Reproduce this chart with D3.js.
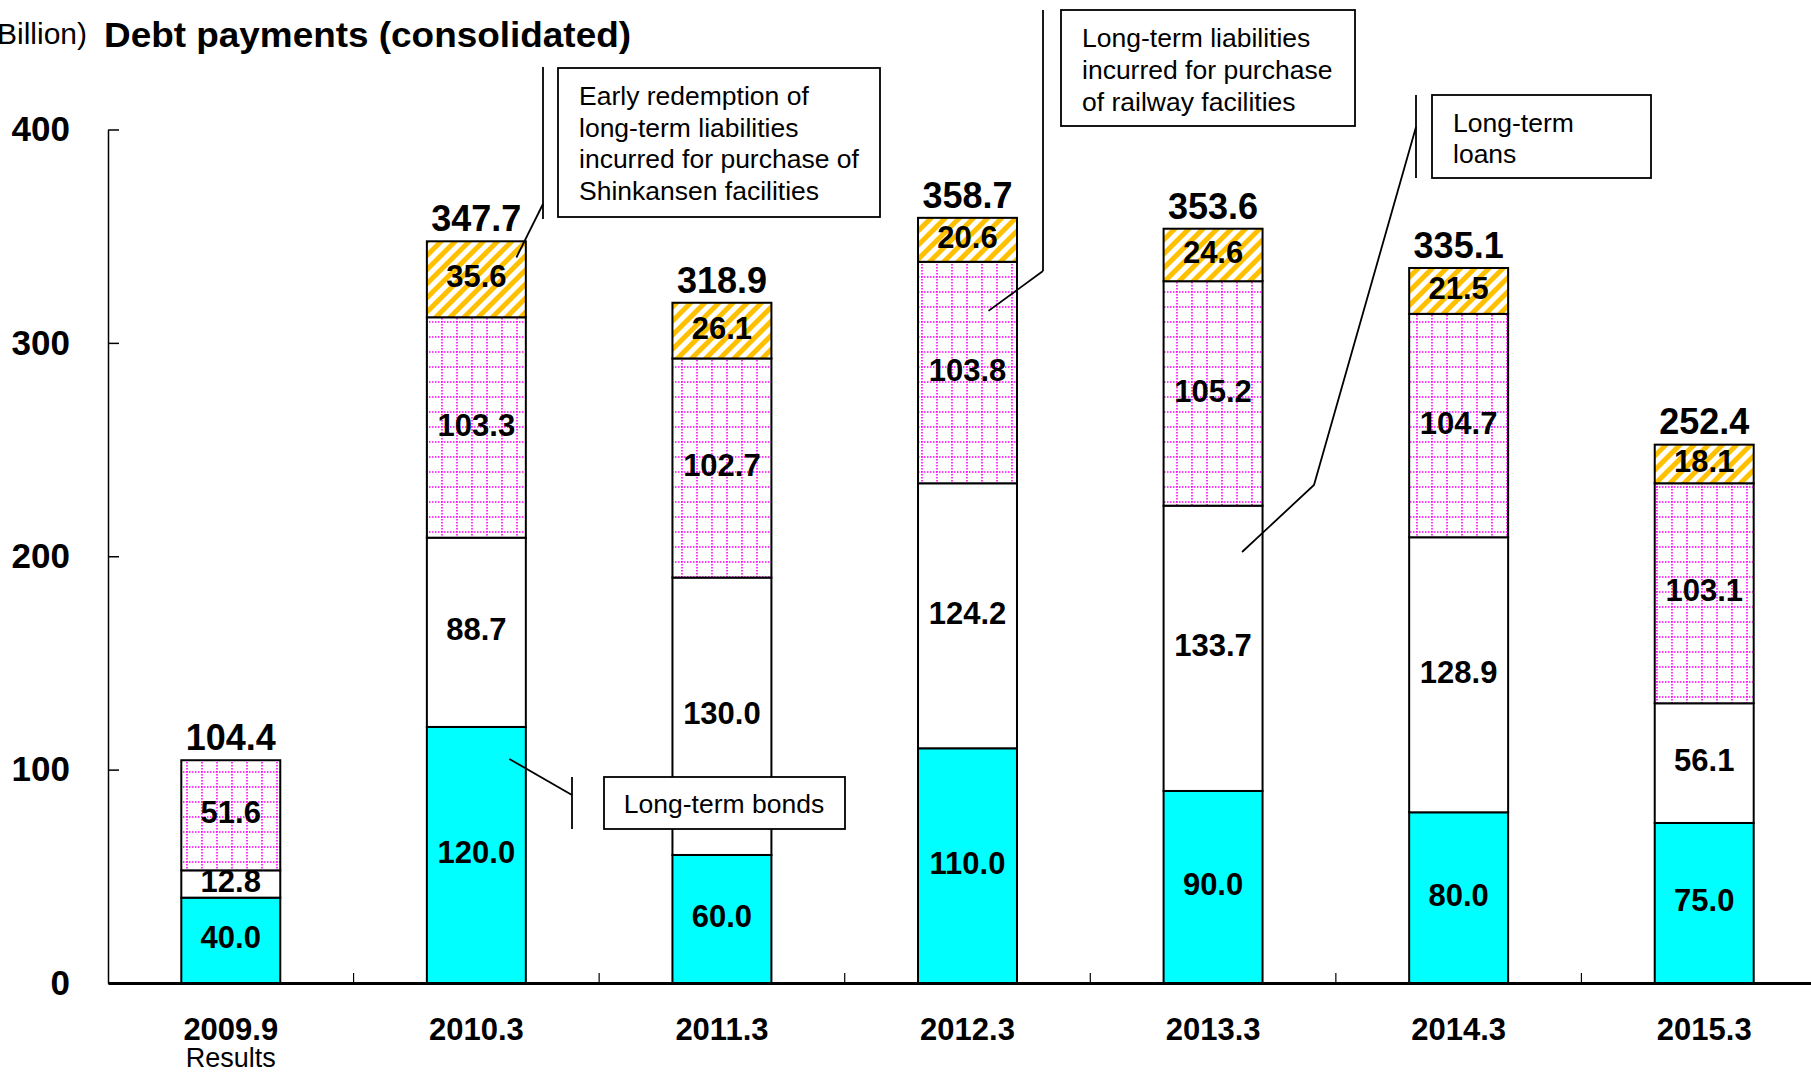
<!DOCTYPE html>
<html>
<head>
<meta charset="utf-8">
<script src="https://cdnjs.cloudflare.com/ajax/libs/d3/7.8.5/d3.min.js"></script>
<style>
  body { margin: 0; background: #fff; }
  text { font-family: "Liberation Sans", Arial, sans-serif; }
</style>
</head>
<body>
<script>
// values in ¥ billion
var categories = ["2009.9", "2010.3", "2011.3", "2012.3", "2013.3", "2014.3", "2015.3"];
var bonds      = [40.0, 120.0, 60.0, 110.0, 90.0, 80.0, 75.0];
var loans      = [12.8, 88.7, 130.0, 124.2, 133.7, 128.9, 56.1];
var railway    = [51.6, 103.3, 102.7, 103.8, 105.2, 104.7, 103.1];
var shinkansen = [0, 35.6, 26.1, 20.6, 24.6, 21.5, 18.1];
var totals     = [104.4, 347.7, 318.9, 358.7, 353.6, 335.1, 252.4];
var yTicks     = [0, 100, 200, 300, 400];

var keys = ["bonds", "loans", "railway", "shinkansen"];
var fills = {bonds: "#00ffff", loans: "#ffffff", railway: "url(#grid)", shinkansen: "url(#hatch)"};

var rows = categories.map(function(c, i) {
  return {cat: c, bonds: bonds[i], loans: loans[i], railway: railway[i], shinkansen: shinkansen[i]};
});

var width = 1811, height = 1073;
var svg = d3.select("body").append("svg")
    .attr("width", width)
    .attr("height", height);

var x = d3.scaleBand()
    .domain(categories)
    .range([108, 1827])
    .paddingInner(0.597)
    .paddingOuter(0.2985);
var y = d3.scaleLinear()
    .domain([0, 400])
    .range([983, 129.5]);

// patterns
var defs = svg.append("defs");
var grid = defs.append("pattern")
    .attr("id", "grid")
    .attr("patternUnits", "userSpaceOnUse")
    .attr("width", 15).attr("height", 15);
grid.append("rect").attr("width", 15).attr("height", 15).attr("fill", "#fff");
grid.append("line").attr("x1", 0).attr("y1", 7).attr("x2", 15).attr("y2", 7)
    .attr("stroke", "#ff00ff").attr("stroke-width", 1.6).attr("stroke-dasharray", "1.5,1.5");
grid.append("line").attr("x1", 7).attr("y1", 0).attr("x2", 7).attr("y2", 15)
    .attr("stroke", "#ff00ff").attr("stroke-width", 1.6).attr("stroke-dasharray", "1.5,1.5");

var hatch = defs.append("pattern")
    .attr("id", "hatch")
    .attr("patternUnits", "userSpaceOnUse")
    .attr("width", 10).attr("height", 10)
    .attr("patternTransform", "rotate(45)");
hatch.append("rect").attr("width", 10).attr("height", 10).attr("fill", "#fff");
hatch.append("rect").attr("width", 5).attr("height", 10).attr("fill", "#ffc000");

// stacked bars
var series = d3.stack().keys(keys)(rows);

var layer = svg.append("g").selectAll("g")
  .data(series)
  .enter().append("g")
    .attr("fill", function(d) { return fills[d.key]; });

layer.selectAll("rect")
  .data(function(d) { return d.filter(function(s) { return s[1] - s[0] > 0; }); })
  .enter().append("rect")
    .attr("x", function(d) { return x(d.data.cat); })
    .attr("y", function(d) { return y(d[1]); })
    .attr("width", x.bandwidth())
    .attr("height", function(d) { return y(d[0]) - y(d[1]); })
    .attr("stroke", "#000")
    .attr("stroke-width", 2);

layer.selectAll("text")
  .data(function(d) { return d.filter(function(s) { return s[1] - s[0] > 0; }); })
  .enter().append("text")
    .attr("x", function(d) { return x(d.data.cat) + x.bandwidth() / 2; })
    .attr("y", function(d) { return (y(d[0]) + y(d[1])) / 2; })
    .attr("dy", "0.26em")
    .attr("text-anchor", "middle")
    .attr("fill", "#000")
    .style("font-size", "31px")
    .style("font-weight", "bold")
    .text(function(d) { return (d[1] - d[0]).toFixed(1); });

// totals
svg.append("g").selectAll("text")
  .data(totals)
  .enter().append("text")
    .attr("x", function(d, i) { return x(categories[i]) + x.bandwidth() / 2; })
    .attr("y", function(d) { return y(d) - 10; })
    .attr("text-anchor", "middle")
    .style("font-size", "36px")
    .style("font-weight", "bold")
    .text(function(d) { return d.toFixed(1); });

// y axis
var yAxis = svg.append("g")
    .attr("transform", "translate(108,0)")
    .call(d3.axisLeft(y).tickValues(yTicks).tickSizeInner(-11).tickSizeOuter(0).tickPadding(38));
yAxis.select(".domain").attr("stroke-width", 1.5);
yAxis.selectAll(".tick line").attr("stroke-width", 1.5);
yAxis.selectAll("text")
    .style("font-size", "35px")
    .style("font-weight", "bold")
    .attr("fill", "#000")
    .style("font-family", "'Liberation Sans', Arial, sans-serif");

// x axis
var xAxis = svg.append("g")
    .attr("transform", "translate(0," + y(0) + ")")
    .call(d3.axisBottom(x).tickSize(0).tickPadding(35));
xAxis.select(".domain").attr("stroke-width", 3);
xAxis.selectAll("text")
    .style("font-size", "31px")
    .style("font-weight", "bold")
    .attr("fill", "#000")
    .style("font-family", "'Liberation Sans', Arial, sans-serif");

// separators between categories
svg.append("g").selectAll("line")
  .data(categories.slice(1))
  .enter().append("line")
    .attr("x1", function(d) { return x(d) - x.step() * x.paddingInner() / 2; })
    .attr("x2", function(d) { return x(d) - x.step() * x.paddingInner() / 2; })
    .attr("y1", y(0))
    .attr("y2", y(0) - 10)
    .attr("stroke", "#000")
    .attr("stroke-width", 1.2);

svg.append("text")
    .attr("x", x(categories[0]) + x.bandwidth() / 2)
    .attr("y", 1067)
    .attr("text-anchor", "middle")
    .style("font-size", "27px")
    .text("Results");

// title + unit
svg.append("text")
    .attr("x", 87)
    .attr("y", 44)
    .attr("text-anchor", "end")
    .style("font-size", "30px")
    .text("(¥ Billion)");
svg.append("text")
    .attr("x", 104)
    .attr("y", 47)
    .attr("textLength", 527)
    .attr("lengthAdjust", "spacingAndGlyphs")
    .style("font-size", "35px")
    .style("font-weight", "bold")
    .text("Debt payments (consolidated)");

// callouts: box position in px, leader goes to a point on a bar (category + value)
var callouts = [
  {lines: ["Early redemption of", "long-term liabilities", "incurred for purchase of", "Shinkansen facilities"],
   box: [558, 68, 322, 149], tx: 579, ty: 105, lh: 31.7,
   bar: [543, 67, 543, 219], path: [[543, 204]], cat: "2010.3", dx: 40, val: 340},
  {lines: ["Long-term liabilities", "incurred for purchase", "of railway facilities"],
   box: [1061, 10, 294, 116], tx: 1082, ty: 47, lh: 32,
   bar: [1043, 10, 1043, 271], path: [[1043, 271]], cat: "2012.3", dx: 21, val: 315},
  {lines: ["Long-term", "loans"],
   box: [1432, 95, 219, 83], tx: 1453, ty: 132, lh: 31,
   bar: [1416, 95, 1416, 178], path: [[1416, 127], [1314, 485]], cat: "2013.3", dx: 29, val: 202},
  {lines: ["Long-term bonds"],
   box: [604, 777, 241, 52], tx: 724, ty: 813, lh: 30, anchor: "middle",
   bar: [572, 777, 572, 829], path: [[572, 795]], cat: "2010.3", dx: 33, val: 105}
];

var co = svg.append("g").selectAll("g")
  .data(callouts)
  .enter().append("g");

co.append("rect")
    .attr("x", function(d) { return d.box[0]; })
    .attr("y", function(d) { return d.box[1]; })
    .attr("width", function(d) { return d.box[2]; })
    .attr("height", function(d) { return d.box[3]; })
    .attr("fill", "#fff")
    .attr("stroke", "#000")
    .attr("stroke-width", 1.8);

co.append("line")
    .attr("x1", function(d) { return d.bar[0]; })
    .attr("y1", function(d) { return d.bar[1]; })
    .attr("x2", function(d) { return d.bar[2]; })
    .attr("y2", function(d) { return d.bar[3]; })
    .attr("stroke", "#000")
    .attr("stroke-width", 1.8);

co.append("path")
    .attr("fill", "none")
    .attr("stroke", "#000")
    .attr("stroke-width", 1.8)
    .attr("d", function(d) {
      var pts = d.path.concat([[x(d.cat) + x.bandwidth() / 2 + d.dx, y(d.val)]]);
      return d3.line()(pts);
    });

co.append("text")
    .attr("text-anchor", function(d) { return d.anchor || "start"; })
    .style("font-size", "26.5px")
  .selectAll("tspan")
  .data(function(d) { return d.lines.map(function(l, i) { return {t: l, x: d.tx, y: d.ty + i * d.lh}; }); })
  .enter().append("tspan")
    .attr("x", function(d) { return d.x; })
    .attr("y", function(d) { return d.y; })
    .text(function(d) { return d.t; });
</script>
</body>
</html>
